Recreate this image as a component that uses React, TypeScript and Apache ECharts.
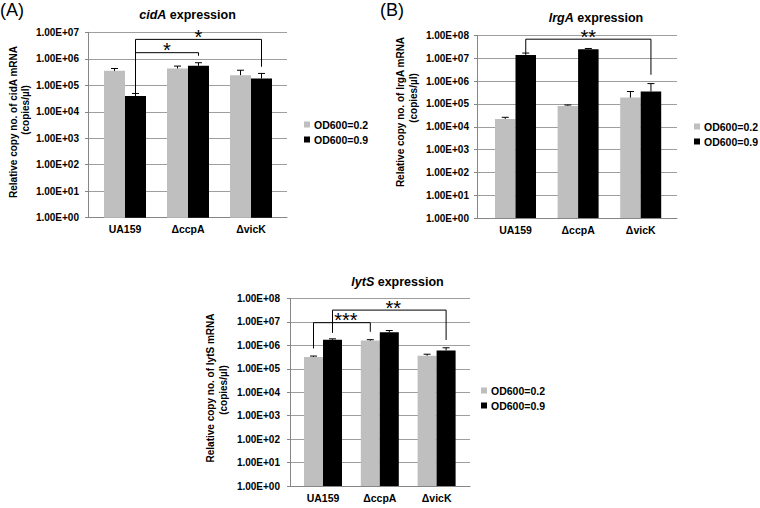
import React, { useEffect, useRef } from 'react';
import * as echarts from 'echarts';

// ---------- data ----------
const categories = ['UA159', 'ΔccpA', 'ΔvicK'];
const seriesNames = ['OD600=0.2', 'OD600=0.9'];

// (A) cidA expression
const cidA_od02 = [3.5e5, 4.3e5, 2.4e5];
const cidA_od02_sd = [0.8e5, 1.0e5, 1.3e5];
const cidA_od09 = [3.9e4, 5.4e5, 1.8e5];
const cidA_od09_sd = [1.0e4, 1.7e5, 1.0e5];

// (B) lrgA expression
const lrgA_od02 = [2.2e4, 8.2e4, 1.9e5];
const lrgA_od02_sd = [0.4e4, 0.8e4, 1.6e5];
const lrgA_od09 = [1.4e7, 2.5e7, 3.5e5];
const lrgA_od09_sd = [0.3e7, 0.2e7, 4.3e5];

// (C) lytS expression
const lytS_od02 = [3.2e5, 1.6e6, 3.6e5];
const lytS_od02_sd = [0.3e5, 0.15e6, 0.6e5];
const lytS_od09 = [1.75e6, 3.6e6, 6.1e5];
const lytS_od09_sd = [0.15e6, 0.7e6, 1.8e5];

// significance brackets: [fromCategory, fromSeries, toCategory, toSeries, level, leftEnd, rightEnd]
const cidA_brackets = [
  [0, 1, 2, 1, 5.4e6, 4.9e4, 5.0e5],
  [0, 1, 1, 1, 1.7e6, 1.7e6, 1.3e6],
];
const cidA_bracketLabels = ['*', '*'];
const lrgA_brackets = [[0, 1, 2, 1, 6.9e7, 1.7e7, 1.9e6]];
const lrgA_bracketLabels = ['**'];
const lytS_brackets = [
  [0, 0, 1, 0, 9.3e6, 7.4e5, 3.8e6],
  [0, 1, 2, 1, 3.2e7, 3.4e6, 1.7e6],
];
const lytS_bracketLabels = ['***', '**'];

// y axis range (log10)
const cidA_yMax = 1e7;
const lrgA_yMax = 1e8;
const lytS_yMax = 1e8;

// ---------- layout / style ----------
const FONT = '"Liberation Sans", Arial, Helvetica, sans-serif';
const GRAY = '#bfbfbf';
const BLACK = '#000000';
const GRID_COLOR = '#9e9e9e';
const AXIS_COLOR = '#868686';

const panels = [
  {
    letter: '(A)', letterPos: [0, 1],
    gene: 'cidA', titlePos: [187.5, 15],
    yTitle1: 'Relative copy no. of cidA mRNA', yTitle2: '(copies/µl)',
    yTitlePos1: [13, 122], yTitlePos2: [25, 110],
    plot: { left: 88, right: 287, top: 32.3, bottom: 217.7 },
    band: { left: 93.5, right: 282.5 },
    yMax: cidA_yMax, labelMargin: 9, barW: 21, starDx: 0,
    legend: { left: 304, top: 119 },
    od02: cidA_od02, od02sd: cidA_od02_sd, od09: cidA_od09, od09sd: cidA_od09_sd,
    brackets: cidA_brackets, bracketLabels: cidA_bracketLabels,
  },
  {
    letter: '(B)', letterPos: [380, 1],
    gene: 'lrgA', titlePos: [596, 18],
    yTitle1: 'Relative copy no. of lrgA mRNA', yTitle2: '(copies/µl)',
    yTitlePos1: [400, 112], yTitlePos2: [413, 98],
    plot: { left: 477, right: 677, top: 35.5, bottom: 218 },
    band: { left: 484.2, right: 672 },
    yMax: lrgA_yMax, labelMargin: 8, barW: 20.5, starDx: 0,
    legend: { left: 694, top: 121 },
    od02: lrgA_od02, od02sd: lrgA_od02_sd, od09: lrgA_od09, od09sd: lrgA_od09_sd,
    brackets: lrgA_brackets, bracketLabels: lrgA_bracketLabels,
  },
  {
    letter: '', letterPos: [0, 0],
    gene: 'lytS', titlePos: [397.5, 282],
    yTitle1: 'Relative copy no. of lytS mRNA', yTitle2: '(copies/µl)',
    yTitlePos1: [210, 388], yTitlePos2: [223, 390],
    plot: { left: 290, right: 470, top: 298.5, bottom: 486 },
    band: { left: 294.6, right: 465 },
    yMax: lytS_yMax, labelMargin: 10, barW: 19, starDx: 4,
    legend: { left: 481, top: 385 },
    od02: lytS_od02, od02sd: lytS_od02_sd, od09: lytS_od09, od09sd: lytS_od09_sd,
    brackets: lytS_brackets, bracketLabels: lytS_bracketLabels,
  },
];

function fmtExp(v: number): string {
  const [m, e] = v.toExponential(2).split('e');
  const sign = e[0];
  const digits = e.slice(1).padStart(2, '0');
  return `${m}E${sign}${digits}`;
}

function buildOption() {
  const grid: any[] = [];
  const xAxis: any[] = [];
  const yAxis: any[] = [];
  const series: any[] = [];
  const legend: any[] = [];
  const graphic: any[] = [];

  panels.forEach((p, i) => {
    const bg = 2 * i;
    const dg = 2 * i + 1;
    const height = p.plot.bottom - p.plot.top;
    grid.push({ left: p.plot.left, top: p.plot.top, width: p.plot.right - p.plot.left, height, containLabel: false });
    grid.push({ left: p.band.left, top: p.plot.top, width: p.band.right - p.band.left, height, containLabel: false });

    xAxis.push({
      gridIndex: bg, type: 'value', min: 0, max: 1,
      axisLine: { show: true, lineStyle: { color: AXIS_COLOR, width: 1 } },
      axisTick: { show: false }, axisLabel: { show: false }, splitLine: { show: false },
    });
    xAxis.push({
      gridIndex: dg, type: 'category', data: categories,
      axisLine: { show: false }, axisTick: { show: false }, splitLine: { show: false },
      axisLabel: { margin: 6, fontFamily: FONT, fontWeight: 'bold', fontSize: 10.5, color: '#000' },
    });
    const logSplit = Math.round(Math.log10(p.yMax));
    yAxis.push({
      gridIndex: bg, type: 'log', logBase: 10, min: 1, max: p.yMax, splitNumber: logSplit,
      axisLine: { show: true, lineStyle: { color: AXIS_COLOR, width: 1 } },
      axisTick: { show: true, length: 3, lineStyle: { color: AXIS_COLOR } },
      minorTick: { show: false }, minorSplitLine: { show: false },
      splitLine: { show: true, lineStyle: { color: GRID_COLOR, width: 1 } },
      axisLabel: {
        margin: p.labelMargin, fontFamily: FONT, fontWeight: 'bold', fontSize: 10, color: '#000',
        formatter: (v: number) => fmtExp(v),
      },
    });
    yAxis.push({
      gridIndex: dg, type: 'log', logBase: 10, min: 1, max: p.yMax, splitNumber: logSplit, show: false,
      splitLine: { show: false },
    });

    const barW = p.barW;
    series.push({
      type: 'bar', name: seriesNames[0], xAxisIndex: dg, yAxisIndex: dg,
      data: p.od02, barWidth: barW, barGap: '0%', itemStyle: { color: GRAY }, z: 2,
    });
    series.push({
      type: 'bar', name: seriesNames[1], xAxisIndex: dg, yAxisIndex: dg,
      data: p.od09, barWidth: barW, barGap: '0%', itemStyle: { color: BLACK }, z: 2,
    });

    // error bars (positive only)
    const errData: number[][] = [];
    p.od02.forEach((v, c) => errData.push([c, v, p.od02sd[c], -1]));
    p.od09.forEach((v, c) => errData.push([c, v, p.od09sd[c], 1]));
    series.push({
      type: 'custom', xAxisIndex: dg, yAxisIndex: dg, z: 4, silent: true,
      encode: { x: 0, y: 1 },
      data: errData,
      renderItem: (params: any, api: any) => {
        const c = api.value(0);
        const v = api.value(1);
        const sd = api.value(2);
        const side = api.value(3);
        const p0 = api.coord([c, v]);
        const p1 = api.coord([c, v + sd]);
        const x = p0[0] + side * barW / 2;
        const cap = 3.5;
        return {
          type: 'group',
          children: [
            { type: 'line', shape: { x1: x, y1: p0[1], x2: x, y2: p1[1] }, style: { stroke: '#000', lineWidth: 1 } },
            { type: 'line', shape: { x1: x - cap, y1: p1[1], x2: x + cap, y2: p1[1] }, style: { stroke: '#000', lineWidth: 1 } },
          ],
        };
      },
    });

    // significance brackets
    const brData = p.brackets.map((b) => [b[0], b[4], b[2], b[1], b[3], b[5], b[6]]);
    const labels = p.bracketLabels;
    const starDx = p.starDx;
    series.push({
      type: 'custom', xAxisIndex: dg, yAxisIndex: dg, z: 5, silent: true,
      encode: { x: 0, y: 1 },
      data: brData,
      renderItem: (params: any, api: any) => {
        const fc = api.value(0);
        const level = api.value(1);
        const tc = api.value(2);
        const fs = api.value(3);
        const ts = api.value(4);
        const le = api.value(5);
        const re = api.value(6);
        const pl = api.coord([fc, level]);
        const pr = api.coord([tc, level]);
        const xl = pl[0] + (fs === 0 ? -1 : 1) * barW / 2;
        const xr = pr[0] + (ts === 0 ? -1 : 1) * barW / 2;
        const yl = api.coord([fc, le])[1];
        const yr = api.coord([tc, re])[1];
        const y = pl[1];
        return {
          type: 'group',
          children: [
            {
              type: 'polyline',
              shape: { points: [[xl, yl], [xl, y], [xr, y], [xr, yr]] },
              style: { stroke: '#000', lineWidth: 1, fill: null },
            },
            {
              type: 'text',
              style: {
                text: labels[params.dataIndex], x: (xl + xr) / 2 + starDx, y: y - 2.5,
                align: 'center', verticalAlign: 'middle',
                font: `normal 20px ${FONT}`, fill: '#000',
              },
            },
          ],
        };
      },
    });

    legend.push({
      data: seriesNames, orient: 'vertical', left: p.legend.left, top: p.legend.top,
      icon: 'rect', itemWidth: 6, itemHeight: 6, itemGap: 4, padding: 0, selectedMode: false,
      textStyle: { fontFamily: FONT, fontWeight: 'bold', fontSize: 10.5, color: '#000', padding: [0, 0, 0, -1] },
    });

    graphic.push({
      type: 'text', x: p.titlePos[0], y: p.titlePos[1], silent: true,
      style: {
        text: `{i|${p.gene}}{n| expression}`,
        align: 'center', verticalAlign: 'middle',
        rich: {
          i: { fontFamily: FONT, fontWeight: 'bold', fontStyle: 'italic', fontSize: 12.5, fill: '#000' },
          n: { fontFamily: FONT, fontWeight: 'bold', fontSize: 12.5, fill: '#000' },
        },
      },
    });
    graphic.push({
      type: 'text', x: p.yTitlePos1[0], y: p.yTitlePos1[1], rotation: Math.PI / 2, silent: true,
      style: { text: p.yTitle1, align: 'center', verticalAlign: 'middle', font: `bold 10px ${FONT}`, fill: '#000' },
    });
    graphic.push({
      type: 'text', x: p.yTitlePos2[0], y: p.yTitlePos2[1], rotation: Math.PI / 2, silent: true,
      style: { text: p.yTitle2, align: 'center', verticalAlign: 'middle', font: `bold 10px ${FONT}`, fill: '#000' },
    });
    if (p.letter) {
      graphic.push({
        type: 'text', x: p.letterPos[0], y: p.letterPos[1], silent: true,
        style: { text: p.letter, align: 'left', verticalAlign: 'top', font: `normal 18px ${FONT}`, fill: '#000' },
      });
    }
  });

  return {
    animation: false,
    backgroundColor: '#ffffff',
    textStyle: { fontFamily: FONT },
    grid, xAxis, yAxis, series, legend, graphic,
  };
}

export default function App() {
  const ref = useRef<HTMLDivElement>(null);
  useEffect(() => {
    if (!ref.current) return;
    const chart = echarts.init(ref.current, undefined, { renderer: 'svg' });
    chart.setOption(buildOption() as any);
    return () => chart.dispose();
  }, []);
  return (
    <div
      ref={ref}
      style={{ position: 'fixed', left: 0, top: 0, width: 760, height: 508, background: '#fff' }}
    />
  );
}
